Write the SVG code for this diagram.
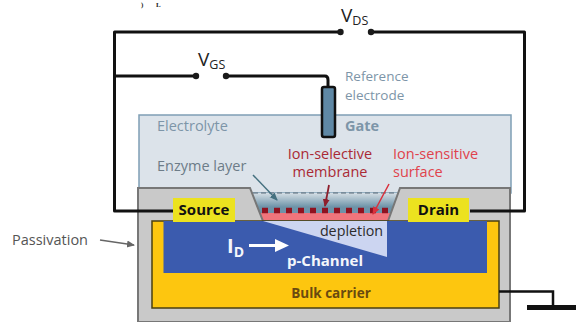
<svg xmlns="http://www.w3.org/2000/svg" width="576" height="322" viewBox="0 0 576 322">
<style>
text{font-family:"Open Sans","DejaVu Sans",sans-serif;font-size:14.500px}
.w{fill:none;stroke:#111;stroke-width:3;stroke-linejoin:round}
.g{fill:#7d95a8}
.d{fill:#aa2a35}
.r{fill:#e0424c}
.b{font-weight:700}
.lab{fill:#ece21f}
.k{fill:#1a1a1a}
</style>
<defs>
<linearGradient id="gr" x1="0" y1="0" x2="0" y2="1"><stop offset="0" stop-color="#d5dee5"/><stop offset="0.7" stop-color="#6d93a8"/><stop offset="1" stop-color="#6d93a8"/></linearGradient>
<marker id="ag" markerWidth="9" markerHeight="9" refX="7" refY="3.500" orient="auto" markerUnits="userSpaceOnUse"><path d="M0 0L8 3.500L0 7z" fill="#666"/></marker>
<marker id="at" markerWidth="9" markerHeight="9" refX="7" refY="3.500" orient="auto" markerUnits="userSpaceOnUse"><path d="M0 0L8 3.500L0 7z" fill="#44707f"/></marker>
<marker id="ad" markerWidth="9" markerHeight="9" refX="7" refY="3.500" orient="auto" markerUnits="userSpaceOnUse"><path d="M0 0L8 3.500L0 7z" fill="#8e1f2c"/></marker>
<marker id="ar" markerWidth="9" markerHeight="9" refX="7" refY="3.500" orient="auto" markerUnits="userSpaceOnUse"><path d="M0 0L8 3.500L0 7z" fill="#d9303c"/></marker>
</defs>
<text y="6.500" fill="#222" style="font-family:'Liberation Serif',serif;font-size:7px;font-weight:700"><tspan x="141">)</tspan><tspan x="156">L</tspan></text>
<g id="electrolyte"><rect x="139" y="115" width="372" height="78" fill="#dce3ea" stroke="#7f9fb5" stroke-width="1.500"/>
<text x="157" y="131" class="g">Electrolyte</text><text x="345" y="131" class="g b">Gate</text></g>
<g id="sensing">
<rect x="252" y="193" width="148" height="20" fill="url(#gr)"/>
<rect x="258" y="213" width="136" height="9" fill="#f0757c"/>
</g>
<g id="passivation"><path d="M138 322V188H250L263 221H388L400 188H510V322Z" fill="#c9c9c9" stroke="#777" stroke-width="2"/>
<path d="M253 193H396" fill="none" stroke="#5a6b78" stroke-width="1" stroke-dasharray="5 3"/>
<path d="M262 210.500H390" stroke="#8e1220" stroke-width="5.500" stroke-dasharray="6 6" fill="none"/></g>
<g id="bulk"><rect x="152" y="221" width="347" height="87" fill="#fdc60f" stroke="#4a3f10" stroke-width="1.500"/>
<text x="331" y="298" text-anchor="middle" class="b" fill="#6a4a10" style="font-size:13.500px">Bulk carrier</text></g>
<g id="channel"><rect x="163.500" y="221" width="323.500" height="52" fill="#3b5bae"/>
<path d="M263 221H387V257Z" fill="#ccd5f1"/>
<text x="351.500" y="236" text-anchor="middle" fill="#2c2c2c" style="font-size:14.300px">depletion</text>
<text x="325" y="266" text-anchor="middle" class="b" fill="#f4f6fb" style="font-size:15px">p-Channel</text>
<text x="227" y="253" class="b" fill="#f4f6fb" style="font-size:20px">I<tspan dy="4" style="font-size:14px">D</tspan></text>
<path d="M249 245.500H279" stroke="#fff" stroke-width="3"/><path d="M275 239L289 245.500L275 252Z" fill="#fff"/></g>
<g id="connectors">
<path class="w" d="M173 211H114.500V32H340"/>
<path class="w" d="M371 32H524.500V211H470"/>
<path class="w" d="M114.500 76H196"/>
<path class="w" d="M226 76H325Q328 76 328 80V87"/>
<circle cx="340.500" cy="32" r="3.200" class="k"/><circle cx="371" cy="32" r="3.200" class="k"/>
<circle cx="196" cy="76" r="3.200" class="k"/><circle cx="226" cy="76" r="3.200" class="k"/>
<path d="M499 291.500H553V307" fill="none" stroke="#111" stroke-width="2.500"/>
<path d="M527 307.500H576" stroke="#111" stroke-width="5"/>
<path d="M100 240L134 245" stroke="#666" stroke-width="1.500" marker-end="url(#ag)"/>
<path d="M253 175L277 200" stroke="#44707f" stroke-width="1.500" marker-end="url(#at)"/>
<path d="M329 185L325 206" stroke="#8e1f2c" stroke-width="1.800" marker-end="url(#ad)"/>
<path d="M389 184L373 214" stroke="#d9303c" stroke-width="1.500" marker-end="url(#ar)"/>
</g>
<g id="reference-electrode"><rect x="322" y="87" width="13" height="50" rx="2" fill="#5f88a5" stroke="#111" stroke-width="2.500"/>
<text x="345" y="81" class="g" style="font-size:13.500px">Reference</text><text x="345" y="100" class="g" style="font-size:13.500px">electrode</text></g>
<g id="source"><rect x="173" y="198" width="62" height="24" class="lab"/><text x="204" y="215" text-anchor="middle" class="b" fill="#111" style="font-size:15px">Source</text></g>
<g id="drain"><rect x="408" y="198" width="61" height="24" class="lab"/><text x="438.500" y="215" text-anchor="middle" class="b" fill="#111" style="font-size:15px">Drain</text></g>
<g id="labels">
<text x="198" y="66" fill="#222" style="font-size:19px">V<tspan dy="3" style="font-size:12.500px">GS</tspan></text>
<text x="341" y="22" fill="#222" style="font-size:19px">V<tspan dy="3" style="font-size:12.500px">DS</tspan></text>
<text x="157" y="171" fill="#6d7c88">Enzyme layer</text>
<text x="330" y="159" text-anchor="middle" class="d">Ion-selective</text>
<text x="330" y="177" text-anchor="middle" class="d">membrane</text>
<text x="393" y="159" class="r">Ion-sensitive</text>
<text x="393" y="177" class="r">surface</text>
<text x="12" y="245" fill="#555">Passivation</text>
</g>
</svg>
